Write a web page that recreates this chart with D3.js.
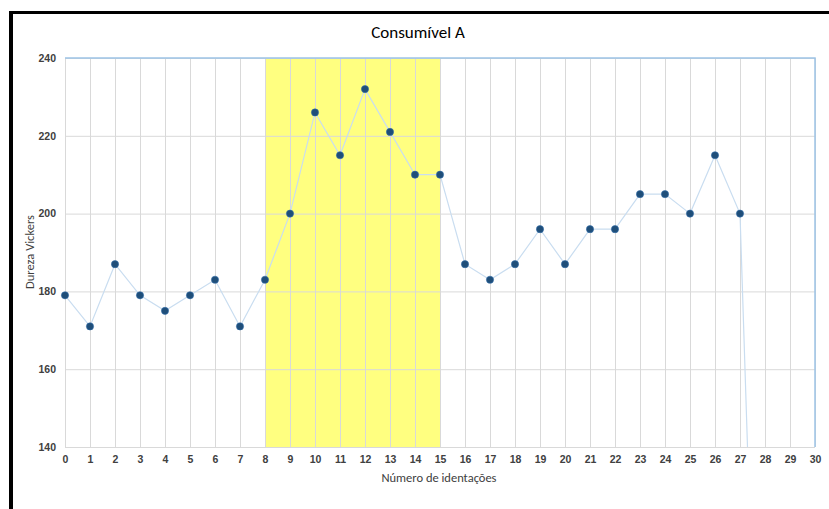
<!DOCTYPE html>
<html>
<head>
<meta charset="utf-8">
<script src="https://cdn.jsdelivr.net/npm/d3@7"></script>
<style>
  body { margin: 0; background: #fff; }
  svg { font-family: Carlito, Calibri, "Open Sans", sans-serif; }
  .tick text { font-weight: bold; fill: #404040; }
</style>
</head>
<body>
<div id="chart"></div>
<script>
// Consumível A - dureza vickers por identação
const indices = d3.range(0, 29);
const durezaValues = [179, 171, 187, 179, 175, 179, 183, 171, 183, 200, 226, 215, 232, 221, 210, 210,
    187, 183, 187, 196, 187, 196, 196, 205, 205, 200, 215, 200, 0];
const xTicks = d3.range(0, 31);
const yTicks = [140, 160, 180, 200, 220, 240];
const highlightRange = [8, 15];

const width = 829, height = 509;
const margin = {top: 58, right: 14, bottom: 62, left: 65};

const svg = d3.select('#chart').append('svg')
    .attr('width', width)
    .attr('height', height);

// black frame (left + top)
svg.append('rect').attr('x', 9).attr('y', 11).attr('width', 4).attr('height', height - 11).attr('fill', '#000');
svg.append('rect').attr('x', 9).attr('y', 11).attr('width', width - 9).attr('height', 3).attr('fill', '#000');

let xScale = d3.scaleLinear()
    .domain([0, 30])
    .range([margin.left, width - margin.right]);

let yScale = d3.scaleLinear()
    .domain([140, 240])
    .range([height - margin.bottom, margin.top]);

// highlighted band
svg.append('rect')
    .attr('x', xScale(highlightRange[0]))
    .attr('y', yScale(240))
    .attr('width', xScale(highlightRange[1]) - xScale(highlightRange[0]))
    .attr('height', yScale(140) - yScale(240))
    .attr('fill', '#ffff80');

// grid
svg.append('g')
    .attr('transform', 'translate(0,' + yScale(140) + ')')
    .call(d3.axisBottom(xScale).tickValues(xTicks).tickSize(-(yScale(140) - yScale(240))).tickFormat(''))
    .call(g => g.select('.domain').remove())
    .call(g => g.selectAll('line').attr('stroke', '#d9d9d9'));

svg.append('g')
    .attr('transform', 'translate(' + margin.left + ',0)')
    .call(d3.axisLeft(yScale).tickValues(yTicks).tickSize(-(xScale(30) - xScale(0))).tickFormat(''))
    .call(g => g.select('.domain').remove())
    .call(g => g.selectAll('line').attr('stroke', '#d9d9d9'));

// plot border top/right light blue
svg.append('path')
    .attr('d', 'M' + xScale(0) + ',' + yScale(240) + 'H' + xScale(30) + 'V' + yScale(140))
    .attr('fill', 'none')
    .attr('stroke', '#9dc3e6')
    .attr('stroke-width', 1.5);

// tick labels
let xAxis = svg.append('g')
    .attr('transform', 'translate(0,' + yScale(140) + ')')
    .call(d3.axisBottom(xScale).tickValues(xTicks).tickSize(0).tickPadding(9).tickFormat(d3.format('d')));
xAxis.select('.domain').remove();
xAxis.selectAll('text').style('font-size', '10.5px');

let yAxis = svg.append('g')
    .attr('transform', 'translate(' + margin.left + ',0)')
    .call(d3.axisLeft(yScale).tickValues(yTicks).tickSize(0).tickPadding(9));
yAxis.select('.domain').remove();
yAxis.selectAll('text').style('font-size', '10.5px');

// clip for series
svg.append('clipPath').attr('id', 'plotClip')
    .append('rect')
    .attr('x', xScale(0) - 6).attr('y', yScale(240) - 6)
    .attr('width', xScale(30) - xScale(0) + 12)
    .attr('height', yScale(140) - yScale(240) + 6);

let data = indices.map((d, i) => ({x: d, y: durezaValues[i]}));

let line = d3.line()
    .x(d => xScale(d.x))
    .y(d => yScale(d.y));

let series = svg.append('g').attr('clip-path', 'url(#plotClip)');

series.append('path')
    .datum(data)
    .attr('d', line)
    .attr('fill', 'none')
    .attr('stroke', '#c9ddf0')
    .attr('stroke-width', 1.2);

series.selectAll('circle')
    .data(data.filter(d => d.y >= 140))
    .enter().append('circle')
    .attr('cx', d => xScale(d.x))
    .attr('cy', d => yScale(d.y))
    .attr('r', 3.6)
    .attr('fill', '#1f4e79')
    .attr('stroke', '#2e6aa8')
    .attr('stroke-width', 0.6);

// titles
svg.append('text')
    .attr('x', 418).attr('y', 38)
    .attr('text-anchor', 'middle')
    .style('font-size', '17px')
    .style('fill', '#000')
    .text('Consumível A');

svg.append('text')
    .attr('x', 439).attr('y', 482)
    .attr('text-anchor', 'middle')
    .style('font-size', '12.5px')
    .style('fill', '#404040')
    .text('Número de identações');

svg.append('text')
    .attr('transform', 'translate(34,' + 252 + ') rotate(-90)')
    .attr('text-anchor', 'middle')
    .style('font-size', '12.5px')
    .style('fill', '#404040')
    .text('Dureza Vickers');
</script>
</body>
</html>
